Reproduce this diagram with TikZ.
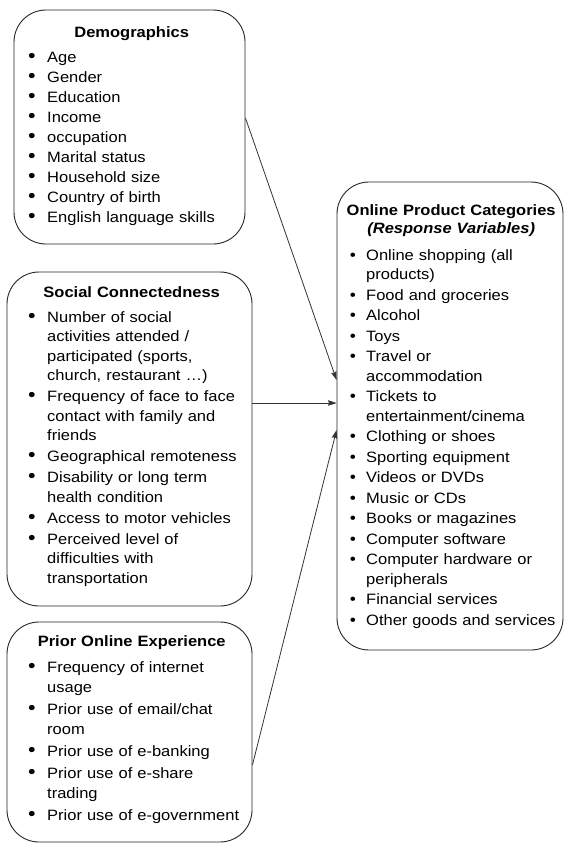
\documentclass[tikz,border=0pt]{standalone}
\usepackage{fontspec}
\usepackage{graphicx}
\setmainfont{Liberation Sans}[FakeStretch=1.1]
\usetikzlibrary{arrows.meta}

% list helpers: hanging bullet entries inside the text boxes
\newlength\entrygap
\newlength\entryhang
\newcommand\entrymark{\scalebox{1.3}{\textbullet}\hspace{11.5pt}}
\newcommand\entry[1]{\par\vspace{\entrygap}\noindent\hangindent=\entryhang\hangafter=0 \llap{\entrymark}#1\par}

\begin{document}
\begin{tikzpicture}[x=1pt,y=-1pt,
  panel/.style={draw=black!85, line width=0.9pt, rounded corners=32pt, inner sep=0pt},
  txt/.style={inner sep=0pt, anchor=base west, align=left,
    font=\fontsize{15}{19.5}\selectfont},
  link/.style={draw=black!80, line width=0.8pt,
    -{Stealth[length=8.5pt,width=5.5pt,inset=1pt]}}]

\useasboundingbox (0,0) rectangle (564,846);

% frames
\node[panel, minimum width=231pt, minimum height=234pt] (demo)   at (129.5,127) {};
\node[panel, minimum width=245pt, minimum height=334pt] (social) at (129.5,439) {};
\node[panel, minimum width=245pt, minimum height=220pt] (prior)  at (129.5,732) {};
\node[panel, minimum width=226pt, minimum height=468pt] (prod)   at (450,416) {};

% box contents
\node[txt, text width=229pt] (demotxt) at (17,37) {%
  \setlength\entrygap{0.5pt}\setlength\entryhang{30pt}%
  {\centering\bfseries Demographics\par}
  \vspace{5pt}
  \entry{Age}
  \entry{Gender}
  \entry{Education}
  \entry{Income}
  \entry{occupation}
  \entry{Marital status}
  \entry{Household size}
  \entry{Country of birth}
  \entry{English language skills}};

\node[txt, text width=229pt] (socialtxt) at (17,297) {%
  \setlength\entrygap{1.5pt}\setlength\entryhang{30pt}%
  {\centering\bfseries Social Connectedness\par}
  \vspace{4pt}
  \entry{Number of social\newline activities attended /\newline participated (sports,\newline church, restaurant …)}
  \entry{Frequency of face to face\newline contact with family and\newline friends}
  \entry{Geographical remoteness}
  \entry{Disability or long term\newline health condition}
  \entry{Access to motor vehicles}
  \entry{Perceived level of\newline difficulties with\newline transportation}};

\node[txt, text width=229pt] (priortxt) at (17,646) {%
  \fontsize{15}{20}\selectfont
  \setlength\entrygap{2pt}\setlength\entryhang{30pt}%
  {\centering\bfseries Prior Online Experience\par}
  \vspace{4pt}
  \entry{Frequency of internet\newline usage}
  \entry{Prior use of email/chat\newline room}
  \entry{Prior use of e-banking}
  \entry{Prior use of e-share\newline trading}
  \entry{Prior use of e-government}};

\node[txt, text width=222pt] (prodtxt) at (340,215.5) {%
  \setlength\entrygap{1pt}\setlength\entryhang{26pt}%
  \renewcommand\entrymark{\scalebox{1.05}{\textbullet}\hspace{10.2pt}}%
  {\centering\bfseries Online Product Categories\\[-1.5pt]
   \textit{(Response Variables)}\par}
  \vspace{6pt}
  \entry{Online shopping (all\newline products)}
  \entry{Food and groceries}
  \entry{Alcohol}
  \entry{Toys}
  \entry{Travel or\newline accommodation}
  \entry{Tickets to\newline entertainment/cinema}
  \entry{Clothing or shoes}
  \entry{Sporting equipment}
  \entry{Videos or DVDs}
  \entry{Music or CDs}
  \entry{Books or magazines}
  \entry{Computer software}
  \entry{Computer hardware or\newline peripherals}
  \entry{Financial services}
  \entry{Other goods and services}};

% connectors
\draw[link] ([yshift=9pt]demo.east)    -- ([yshift=36pt]prod.west);
\draw[link] ([yshift=36pt]social.east) -- ([yshift=13pt]prod.west);
\draw[link] ([yshift=-33pt]prior.east) -- ([yshift=-14pt]prod.west);

\end{tikzpicture}
\end{document}
